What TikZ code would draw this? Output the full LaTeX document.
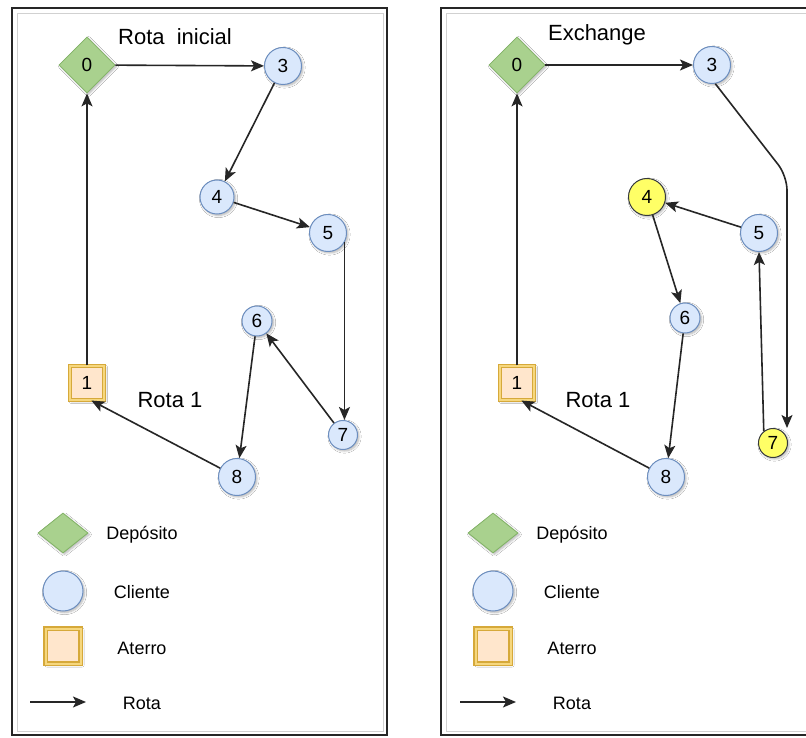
\documentclass[tikz,border=0pt]{standalone}
\usepackage{fontspec}
\setmainfont{Liberation Sans}
\usetikzlibrary{arrows.meta,shapes.geometric,shadows.blur}

\definecolor{depfill}{HTML}{A9D18E}
\definecolor{depline}{HTML}{82B366}
\definecolor{clifill}{HTML}{DAE8FC}
\definecolor{cliline}{HTML}{6C8EBF}
\definecolor{atfill}{HTML}{FFE6CC}
\definecolor{atline}{HTML}{D6A93A}
\definecolor{atgap}{HTML}{F6D77E}
\definecolor{swfill}{HTML}{FFFF66}
\definecolor{swline}{HTML}{36393D}

\begin{document}
\begin{tikzpicture}[x=1pt,y=-1pt,
  soft/.style={blur shadow={shadow xshift=1.5pt,shadow yshift=-1.5pt,shadow blur steps=6,shadow opacity=30}},
  lbl/.style={font=\fontsize{19}{19}\selectfont},
  deposito/.style={diamond,aspect=1,inner sep=0pt,minimum width=56pt,minimum height=56pt,
    fill=depfill,draw=depline,line width=0.8pt,soft,lbl},
  cliente/.style={circle,inner sep=0pt,minimum size=37pt,fill=clifill,draw=cliline,line width=1pt,soft,lbl},
  small/.style={minimum size=30pt},
  swapped/.style={fill=swfill,draw=swline},
  aterro/.style={rectangle,inner sep=0pt,minimum size=34pt,fill=atfill,draw=atline,
    double=atgap,double distance=2pt,line width=1.1pt,soft,lbl},
  route/.style={-{Stealth[length=13pt,width=11pt,inset=3pt]},line width=1.6pt,black!85},
  frame/.style={draw=black!85,line width=1.6pt},
  innerframe/.style={draw=black!18,line width=0.8pt},
  title/.style={font=\fontsize{22}{22}\selectfont},
  legend/.style={font=\fontsize{18}{18}\selectfont}]

\useasboundingbox (0,0) rectangle (806,738);
\clip (0,0) rectangle (806,738);
\fill[white] (0,0) rectangle (806,738);

% panel frames
\draw[innerframe] (17,13) rectangle (383,731);
\draw[frame] (12,8) rectangle (387,735);
\draw[innerframe] (446,13) rectangle (840,731);
\draw[frame] (441,8) rectangle (840,735);

% ---------- initial route ----------
\node[title] (titleL) at (175,37) {Rota~~inicial};
\node[deposito] (L0) at (87,65) {0};
\node[cliente] (L3) at (283,66) {3};
\node[cliente,minimum size=34pt] (L4) at (217,197) {4};
\node[cliente] (L5) at (328,233) {5};
\node[cliente,small] (L6) at (257,321) {6};
\node[cliente,minimum size=29pt] (L7) at (343,435) {7};
\node[cliente] (L8) at (237,477) {8};
\node[aterro] (L1) at (87,383) {1};
\node[title] (routeL) at (170,400) {Rota 1};

\draw[route] (L0) -- (L3);
\draw[route] (L3) -- (L4);
\draw[route] (L4) -- (L5);
\draw[route] (L5.-30) -- (L5.-30 |- L7.north);
\draw[route] (L7) -- (L6);
\draw[route] (L6) -- (L8);
\draw[route] (L8) -- (L1.-76);
\draw[route] (L1.north) -- (L0.south);

% ---------- after exchange ----------
\node[title] (titleR) at (597,35) {Exchange};
\node[deposito] (R0) at (517,65) {0};
\node[cliente] (R3) at (712,65) {3};
\node[cliente,swapped] (R4) at (647,197) {4};
\node[cliente] (R5) at (759,233) {5};
\node[cliente,small] (R6) at (685,318) {6};
\node[cliente,swapped,minimum size=29pt] (R7) at (773,443) {7};
\node[cliente] (R8) at (666,477) {8};
\node[aterro] (R1) at (517,383) {1};
\node[title] (routeR) at (598,400) {Rota 1};

\coordinate (Rbend) at (787,176);
\draw[route] (R0) -- (R3);
\draw[route,rounded corners=14pt] (R3.-80) -- (Rbend) -- (R7.north -| Rbend);
\draw[route] (R7.128) -- (R5.south);
\draw[route] (R5) -- (R4);
\draw[route] (R4) -- (R6);
\draw[route] (R6) -- (R8);
\draw[route] (R8) -- (R1.-76);
\draw[route] (R1.north) -- (R0.south);

% ---------- legends ----------
\foreach \dx/\s in {0/L,430/R}{
  \node[deposito,aspect=1.25,minimum width=50pt,minimum height=40pt] (legDep\s) at (63+\dx,533) {};
  \node[legend] (legDepText\s) at (142+\dx,535) {Depósito};
  \node[cliente,minimum size=40pt] (legCli\s) at (63+\dx,591) {};
  \node[legend] (legCliText\s) at (142+\dx,592) {Cliente};
  \node[aterro,minimum size=35pt] (legAt\s) at (63+\dx,646) {};
  \node[legend] (legAtText\s) at (142+\dx,648) {Aterro};
  \coordinate (legRs\s) at (30+\dx,702);
  \coordinate (legRe\s) at (86+\dx,702);
  \draw[route] (legRs\s) -- (legRe\s);
  \node[legend] (legRText\s) at (142+\dx,703) {Rota};
}
\end{tikzpicture}
\end{document}
